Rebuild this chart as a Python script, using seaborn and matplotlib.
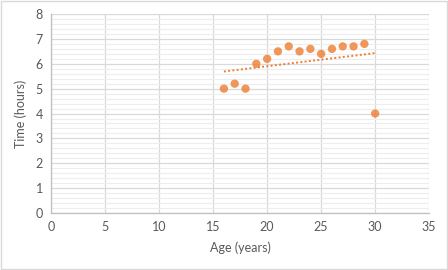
import matplotlib
matplotlib.use("Agg")
import matplotlib.pyplot as plt
import seaborn as sns
import pandas as pd
import numpy as np
from matplotlib.ticker import MultipleLocator

age = [16, 17, 18, 19, 20, 21, 22, 23, 24, 25, 26, 27, 28, 29, 30]
time_hours = [5.0, 5.2, 5.0, 6.0, 6.2, 6.5, 6.7, 6.5, 6.6, 6.4, 6.6, 6.7, 6.7, 6.8, 4.0]
x_ticks = [0, 5, 10, 15, 20, 25, 30, 35]
y_ticks = [0, 1, 2, 3, 4, 5, 6, 7, 8]

df = pd.DataFrame({"Age": age, "Time": time_hours})

sns.set_theme(style="white")
plt.rcParams['font.family'] = ['Lato', 'DejaVu Sans']

orange = "#ED7D31"
txt = "#595959"

fig = plt.figure(figsize=(4.48, 2.70), dpi=100)
fig.patch.set_facecolor("white")
ax = fig.add_axes([0.114, 0.211, 0.844, 0.737])

sns.regplot(data=df, x="Age", y="Time", ax=ax, ci=None, truncate=True,
            scatter_kws=dict(s=36, color=orange, edgecolor="none", zorder=3),
            line_kws=dict(color=orange, linestyle=(0, (1, 1.2)), linewidth=1.4, zorder=2))

ax.set_xlim(0, 35)
ax.set_ylim(0, 8)
ax.set_xticks(x_ticks)
ax.set_yticks(y_ticks)
ax.yaxis.set_minor_locator(MultipleLocator(0.2))
ax.grid(True, which="major", color="#D9D9D9", linewidth=0.9, zorder=0)
ax.grid(True, which="minor", axis="y", color="#EDEDED", linewidth=0.8, zorder=0)
ax.set_axisbelow(True)

for s in ["top", "right"]:
    ax.spines[s].set_visible(False)
for s in ["left", "bottom"]:
    ax.spines[s].set_color("#BFBFBF")
    ax.spines[s].set_linewidth(0.9)

ax.tick_params(axis="both", which="both", length=0, labelsize=9, colors=txt, pad=6)
ax.set_xlabel("Age (years)", fontsize=9, color=txt, labelpad=6)
ax.set_ylabel("Time (hours)", fontsize=9, color=txt, labelpad=6)

border = plt.Rectangle((0.002, 0.004), 0.995, 0.992, transform=fig.transFigure,
                       fill=False, edgecolor="#D9D9D9", linewidth=1)
fig.patches.append(border)

fig.savefig("out.png", dpi=100, facecolor="white")
